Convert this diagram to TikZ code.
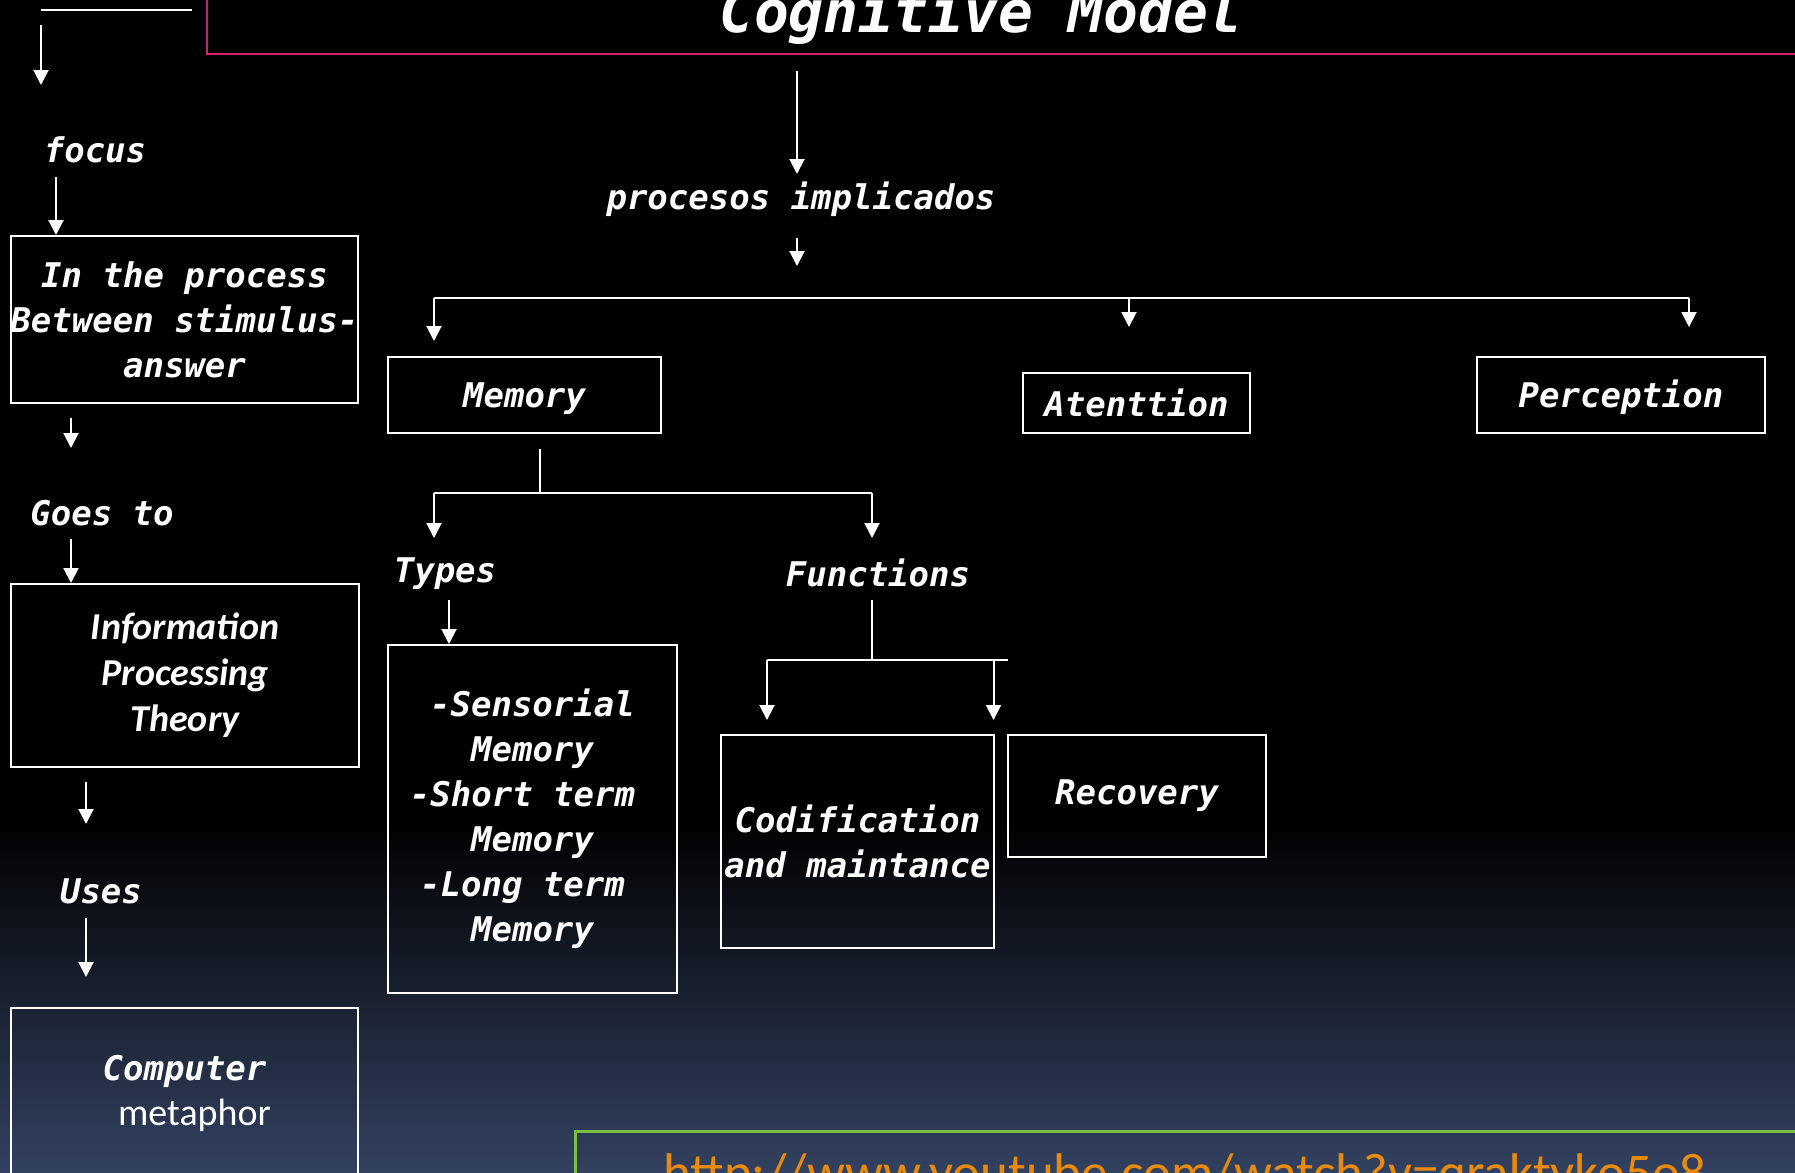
\documentclass[tikz,border=0pt]{standalone}
\usepackage{fontspec}
\setmonofont{DejaVu Sans Mono}
\newfontfamily\carlito{Carlito}
\usetikzlibrary{arrows.meta}
\definecolor{titlepink}{RGB}{214,30,110}
\definecolor{urlgreen}{RGB}{122,192,66}
\definecolor{urlorange}{RGB}{232,138,12}
\definecolor{bgblue}{RGB}{50,65,96}
\newcommand\cmfont{\ttfamily\bfseries\itshape\fontsize{34}{45}\selectfont}
\newcommand\ipfont{\carlito\bfseries\itshape\fontsize{38}{46}\selectfont}
\tikzset{
block/.style = {draw=white, line width=2pt, rectangle, inner sep=0pt, align=center, text=white, font=\cmfont},
word/.style  = {text=white, inner sep=0pt, align=center, font=\cmfont},
tmp/.style   = {coordinate},
link/.style  = {draw=white, line width=2pt}
}

\begin{document}
\begin{tikzpicture}[x=1pt, y=-1pt, >={Triangle[width=15pt,length=15pt]}]
  \useasboundingbox (0,0) rectangle (1795,1172);
  \clip (0,0) rectangle (1795,1172);
  \fill [black] (0,0) rectangle (1795,1172);
  \fill [top color=black, bottom color=bgblue] (0,820) rectangle (1795,1172);

  % boxes
  \node [block, draw=titlepink, minimum width=1620pt, minimum height=120pt] (head)       at (1017,-6)      {};
  \node [word, anchor=base, font=\ttfamily\bfseries\itshape\fontsize{58}{60}\selectfont] (title) at (981,33) {Cognitive Model};
  \node [block, minimum width=347pt, minimum height=167pt]                   (process)    at (184.5,319.5)  {In the process\\Between stimulus-\\answer};
  \node [block, font=\ipfont, minimum width=348pt, minimum height=183pt]     (ipt)        at (185,675.5)    {Information\\Processing\\Theory};
  \node [block, minimum width=347pt, minimum height=170pt]                   (computer)   at (184.5,1093)   {Computer\\{\carlito\mdseries\upshape\fontsize{38}{45}\selectfont\hspace*{20pt}metaphor}};
  \node [block, text height=32pt, minimum width=273pt, minimum height=76pt]  (memory)     at (524.5,395)    {Memory};
  \node [block, minimum width=227pt, minimum height=60pt]                    (attention)  at (1136.5,403)   {Atenttion};
  \node [block, text height=32pt, minimum width=288pt, minimum height=76pt]  (perception) at (1621,395)     {Perception};
  \node [block, minimum width=289pt, minimum height=348pt]                   (types)      at (532.5,819)    {-Sensorial\\Memory\\\hspace*{-20pt}-Short term\\Memory\\\hspace*{-20pt}-Long term\\Memory};
  \node [block, minimum width=273pt, minimum height=213pt]                   (codif)      at (857.5,841.5)  {Codification\\and maintance};
  \node [block, minimum width=258pt, minimum height=122pt]                   (recovery)   at (1137,796)     {Recovery};
  \node [block, draw=urlgreen, line width=3pt, minimum width=1300pt, minimum height=140pt] (urlbox) at (1225,1201) {};
  \node [anchor=base west, inner sep=0pt, text=urlorange, font=\carlito\fontsize{53}{60}\selectfont] (url) at (663,1190) {http://www.youtube.com/watch?v=qraktyko5o8};

  % labels
  \node [word] (focus) at (95,150)  {focus};
  \node [word] (goes)  at (102,513) {Goes to};
  \node [word] (uses)  at (101,891) {Uses};
  \node [word] (procs) at (801,199) {procesos implicados};
  \node [word] (typ)   at (445,574) {Types};
  \node [word] (func)  at (878,573) {Functions};

  % free ends and bends
  \node [tmp] (top1) at (41,10)   {};
  \node [tmp] (top2) at (192,10)  {};
  \node [tmp] (a1s)  at (41,25)   {};
  \node [tmp] (a1e)  at (41,85)   {};
  \node [tmp] (a2s)  at (56,177)  {};
  \node [tmp] (a3s)  at (71,418)  {};
  \node [tmp] (a3e)  at (71,448)  {};
  \node [tmp] (a4s)  at (71,539)  {};
  \node [tmp] (a5s)  at (86,782)  {};
  \node [tmp] (a5e)  at (86,824)  {};
  \node [tmp] (a6s)  at (86,918)  {};
  \node [tmp] (a6e)  at (86,977)  {};
  \node [tmp] (h1)   at (797,71)  {};
  \node [tmp] (h2)   at (797,174) {};
  \node [tmp] (p1)   at (797,238) {};
  \node [tmp] (p2)   at (797,266) {};
  \node [tmp] (bus1) at (434,298) {};
  \node [tmp] (bus2) at (1129,298) {};
  \node [tmp] (bus3) at (1689,298) {};
  \node [tmp] (m1)   at (540,449) {};
  \node [tmp] (m2)   at (540,493) {};
  \node [tmp] (mt)   at (434,493) {};
  \node [tmp] (mf)   at (872,493) {};
  \node [tmp] (t1)   at (449,600) {};
  \node [tmp] (f1)   at (872,600) {};
  \node [tmp] (f2)   at (872,660) {};
  \node [tmp] (fc)   at (767,660) {};
  \node [tmp] (fr)   at (993.5,660) {};
  \node [tmp] (fe)   at (1008,660) {};

  \draw [link] (top1) -- (top2);
  \draw [link, ->] (a1s) -- (a1e);
  \draw [link, ->] (a2s) -- (a2s |- process.north);
  \draw [link, ->] (a3s) -- (a3e);
  \draw [link, ->] (a4s) -- (a4s |- ipt.north);
  \draw [link, ->] (a5s) -- (a5e);
  \draw [link, ->] (a6s) -- (a6e);
  \draw [link, ->] (h1) -- (h2);
  \draw [link, ->] (p1) -- (p2);
  \draw [link] (bus1) -- (bus3);
  \draw [link, ->] (bus1) -- ++(0,43);
  \draw [link, ->] (bus2) -- ++(0,29);
  \draw [link, ->] (bus3) -- ++(0,29);
  \draw [link] (m1) -- (m2);
  \draw [link, ->] (mt) -- ++(0,45);
  \draw [link] (mt) -- (mf);
  \draw [link, ->] (mf) -- ++(0,45);
  \draw [link, ->] (t1) -- (t1 |- types.north);
  \draw [link] (f1) -- (f2);
  \draw [link] (fc) -- (fe);
  \draw [link, ->] (fc) -- ++(0,60);
  \draw [link, ->] (fr) -- ++(0,60);
\end{tikzpicture}
\end{document}
